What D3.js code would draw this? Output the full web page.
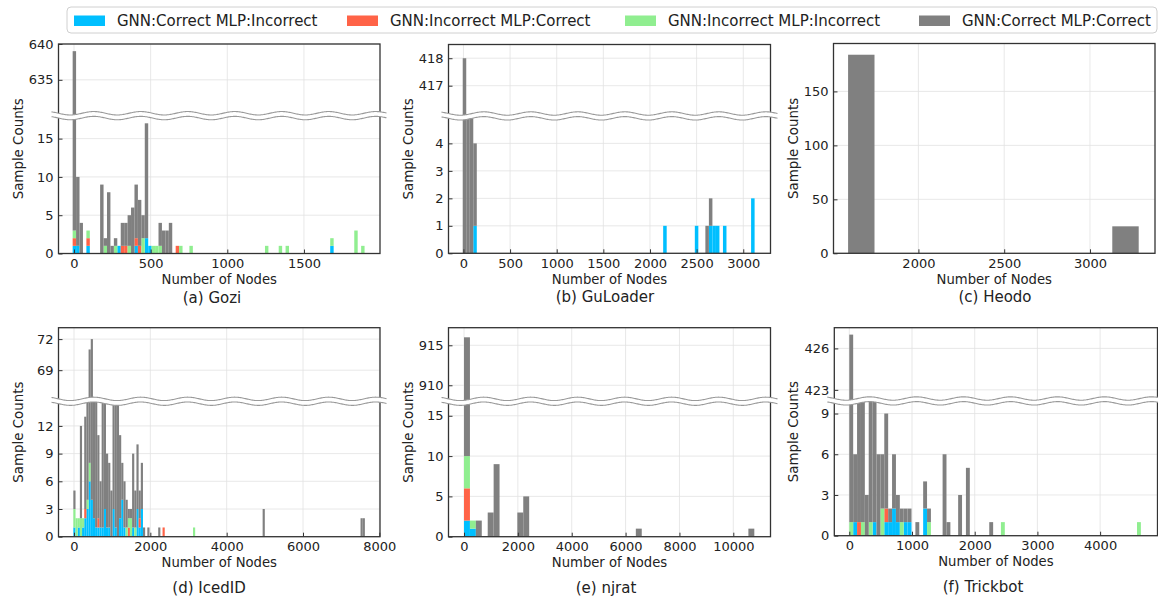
<!DOCTYPE html>
<html>
<head>
<meta charset="utf-8">
<script src="https://cdn.jsdelivr.net/npm/d3@7"></script>
<style>
  body { margin: 0; background: #fff; }
  text { font-family: "DejaVu Sans", sans-serif; fill: #222; }
</style>
</head>
<body>
<svg id="chart" width="1158" height="598"></svg>
<script>
/* DATA */
const seriesKeys = ["gcMi", "giMc", "giMi", "gcMc"];
const seriesLabels = ["GNN:Correct MLP:Incorrect", "GNN:Incorrect MLP:Correct", "GNN:Incorrect MLP:Incorrect", "GNN:Correct MLP:Correct"];
const seriesColors = ["#00bfff", "#ff6347", "#90ee90", "#808080"];

// (a) Gozi - bin index, counts per series (stacked)
const goziBins  = [0,1,2,4,8,9,10,11,12,13,14,15,16,17,18,19,20,21,22,23,24,25,26,27,28,30,31,34,56,60,62,75,82,84];
const goziBlue  = [1,1,0,1,0,0,0,0,0,1, 0,0,0,0,1,0,0,2,1,0, 0,0,0,0,0,0,0,0,0,0, 0,1,0,0];
const goziRed   = [1,0,0,1,0,0,0,0,0,0, 1,1,0,0,1,1,0,0,0,0, 0,0,0,0,0,1,0,0,0,0, 0,0,0,0];
const goziGreen = [1,0,0,1,0,1,0,0,1,0, 0,0,1,0,0,0,2,0,0,1, 1,1,0,0,0,0,1,1,1,1, 1,1,3,1];
const goziGray  = [636,9,4,0,9,1,8,1,1,0, 3,3,4,6,7,6,3,15,0,0, 0,3,3,3,4,0,0,0,0,0, 0,0,0,0];

// (b) GuLoader
const guBins  = [0,1,2,3,57,66,69,70,71,72,74,82];
const guBlue  = [0,0,0,1,1,1,0,1,1,1,1,2];
const guRed   = [0,0,0,0,0,0,0,0,0,0,0,0];
const guGreen = [0,0,0,0,0,0,0,0,0,0,0,0];
const guGray  = [418,12,7,3,0,0,1,1,0,0,0,0];

// (c) Heodo
const heoBins  = [0,10];
const heoBlue  = [0,0];
const heoRed   = [0,0];
const heoGreen = [0,0];
const heoGray  = [184,25];

// (d) IcedID
const iceBins  = [0,1,2,3,4,5,6,7,8,9,10,11,12,13,14,15,16,17,18,19,20,21,22,23,24,25,26,27,28,29,30,31,32,34,39,41,55,87,132,133];
const iceBlue  = [1,0,1,0,1,2,3,6,4,2, 1,1,1,1,3,1,1,0,3,1, 0,2,4,1,0,0,0,1,0,3, 1,3,0,0,0,0,0,0,0,0];
const iceRed   = [0,0,0,0,0,1,0,0,0,0, 0,1,0,0,0,0,0,0,0,0, 0,0,0,0,0,1,0,0,0,0, 1,0,0,0,0,1,0,0,0,0];
const iceGreen = [2,2,1,2,1,0,1,2,0,0, 0,0,0,0,0,0,0,0,0,0, 0,0,0,0,1,1,2,0,1,0, 0,0,0,0,0,0,1,0,0,0];
const iceGray  = [2,0,0,10,0,10,36,63,68,43, 34,9,5,24,17,8,7,5,22,18, 16,9,4,5,3,1,1,8,4,7, 3,5,1,1,1,0,0,3,2,2];

// (e) njrat
const njBins  = [0,1,2,4,5,9,10,29,48];
const njBlue  = [2,1,0,0,0,0,0,0,0];
const njRed   = [4,0,0,0,0,0,0,0,0];
const njGreen = [4,1,0,0,0,0,0,0,0];
const njGray  = [906,0,2,3,9,3,5,1,1];

// (f) Trickbot
const tbBins  = [0,1,2,3,4,5,6,7,8,9,10,11,12,13,14,15,17,19,20,24,25,28,30,36,39,74];
const tbBlue  = [0,1,0,0,0,0,1,0,0,1, 1,2,1,0,1,1,0,2,0,0, 0,0,0,0,0,0];
const tbRed   = [0,0,1,0,0,0,0,0,0,1, 0,0,0,0,0,0,0,0,0,0, 0,0,0,0,0,0];
const tbGreen = [1,0,0,1,0,1,0,0,2,0, 0,0,0,1,0,0,0,0,1,0, 0,0,0,0,1,1];
const tbGray  = [426,5,9,9,3,9,9,6,4,7, 1,4,2,1,1,1,1,2,1,6, 1,3,5,1,0,0];

/* PANEL SETUP */
const panels = [
  { id: "a", title: "(a) Gozi", titleX: 212, labelX: 18,
    left: 58.5, right: 380, top: 44, bottom: 253.5, breakFrac: 0.342,
    xDomain: [-101, 1996], xTicks: [0, 500, 1000, 1500], binStart: -8.7, binWidth: 22.4,
    yBot: [0, 18], yBotTicks: [0, 5, 10, 15], yTop: [630, 640], yTopTicks: [635, 640],
    bins: goziBins, values: [goziBlue, goziRed, goziGreen, goziGray] },
  { id: "b", title: "(b) GuLoader", titleX: 605, labelX: 408,
    left: 448.5, right: 770.5, top: 44.5, bottom: 253.3, breakFrac: 0.342,
    xDomain: [-160, 3292], xTicks: [0, 500, 1000, 1500, 2000, 2500, 3000], binStart: -7.5, binWidth: 37.7,
    yBot: [0, 5], yBotTicks: [0, 1, 2, 3, 4], yTop: [415.9, 418.5], yTopTicks: [417, 418],
    bins: guBins, values: [guBlue, guRed, guGreen, guGray] },
  { id: "c", title: "(c) Heodo", titleX: 995, labelX: 793,
    left: 833.5, right: 1155, top: 43.5, bottom: 253.3, breakFrac: null,
    xDomain: [1505, 3379], xTicks: [2000, 2500, 3000], binStart: 1590, binWidth: 154,
    yBot: [0, 194.4], yBotTicks: [0, 50, 100, 150], yTop: null, yTopTicks: [],
    bins: heoBins, values: [heoBlue, heoRed, heoGreen, heoGray] },
  { id: "d", title: "(d) IcedID", titleX: 209, labelX: 18,
    left: 58.5, right: 380, top: 327.7, bottom: 536.7, breakFrac: 0.352,
    xDomain: [-406, 8017], xTicks: [0, 2000, 4000, 6000, 8000], binStart: -17, binWidth: 57,
    yBot: [0, 14.67], yBotTicks: [0, 3, 6, 9, 12], yTop: [66, 73.1], yTopTicks: [69, 72],
    bins: iceBins, values: [iceBlue, iceRed, iceGreen, iceGray] },
  { id: "e", title: "(e) njrat", titleX: 606, labelX: 408,
    left: 448.5, right: 770.5, top: 327.7, bottom: 536.7, breakFrac: 0.352,
    xDomain: [-576, 11381], xTicks: [0, 2000, 4000, 6000, 8000, 10000], binStart: 0, binWidth: 220,
    yBot: [0, 16.8], yBotTicks: [0, 5, 10, 15], yTop: [908, 917.2], yTopTicks: [910, 915],
    bins: njBins, values: [njBlue, njRed, njGreen, njGray] },
  { id: "f", title: "(f) Trickbot", titleX: 983, labelX: 793,
    left: 834.3, right: 1157.5, top: 327.7, bottom: 535.7, breakFrac: 0.352,
    xDomain: [-239, 4915], xTicks: [0, 1000, 2000, 3000, 4000], binStart: 0, binWidth: 62,
    yBot: [0, 9.93], yBotTicks: [0, 3, 6, 9], yTop: [422.2, 427.5], yTopTicks: [423, 426],
    bins: tbBins, values: [tbBlue, tbRed, tbGreen, tbGray] }
];

const svg = d3.select("#chart");
const defs = svg.append("defs");

function styleAxis(a) {
  a.select(".domain").remove();
  a.selectAll(".tick line").attr("stroke", "#333").attr("stroke-width", 1);
  a.selectAll("text").attr("font-size", 13).attr("font-family", "DejaVu Sans, sans-serif").attr("fill", "#222");
}

function drawPanel(p) {
  const g = svg.append("g").attr("class", "panel-" + p.id);
  const broken = p.yTop !== null;
  const breakY = broken ? p.top + (p.bottom - p.top) * p.breakFrac : p.top;

  const x = d3.scaleLinear().domain(p.xDomain).range([p.left, p.right]);
  const yBot = d3.scaleLinear().domain(p.yBot).range([p.bottom, breakY]);
  const yTop = broken ? d3.scaleLinear().domain(p.yTop).range([breakY, p.top]) : null;

  // grid lines
  const grid = g.append("g").attr("stroke", "#e2e2e2").attr("stroke-width", 0.8);
  grid.selectAll(".gx").data(p.xTicks).join("line")
    .attr("x1", d => x(d)).attr("x2", d => x(d))
    .attr("y1", p.top).attr("y2", p.bottom);
  grid.selectAll(".gyb").data(p.yBotTicks).join("line")
    .attr("x1", p.left).attr("x2", p.right)
    .attr("y1", d => yBot(d)).attr("y2", d => yBot(d));
  if (broken) {
    grid.selectAll(".gyt").data(p.yTopTicks).join("line")
      .attr("x1", p.left).attr("x2", p.right)
      .attr("y1", d => yTop(d)).attr("y2", d => yTop(d));
  }

  // stacked histogram rows
  const rows = p.bins.map((b, i) => {
    const r = { x0: p.binStart + b * p.binWidth, x1: p.binStart + (b + 1) * p.binWidth };
    seriesKeys.forEach((k, j) => { r[k] = p.values[j][i]; });
    return r;
  });
  const stacked = d3.stack().keys(seriesKeys)(rows);

  // split each stacked segment into the lower and upper parts of the broken axis
  const segs = [];
  stacked.forEach((s, k) => {
    s.forEach(d => {
      const lo = Math.min(d[0], p.yBot[1]), hi = Math.min(d[1], p.yBot[1]);
      if (hi > lo) segs.push({ k, x0: d.data.x0, x1: d.data.x1, y0: yBot(lo), y1: yBot(hi) });
      if (broken) {
        const lo2 = Math.max(d[0], p.yTop[0]), hi2 = Math.min(Math.max(d[1], p.yTop[0]), p.yTop[1]);
        if (hi2 > lo2) segs.push({ k, x0: d.data.x0, x1: d.data.x1, y0: yTop(lo2), y1: yTop(hi2) });
      }
    });
  });

  defs.append("clipPath").attr("id", "clip-" + p.id)
    .append("rect").attr("x", p.left).attr("y", p.top)
    .attr("width", p.right - p.left).attr("height", p.bottom - p.top);

  g.append("g").attr("clip-path", `url(#clip-${p.id})`)
    .selectAll("rect").data(segs).join("rect")
      .attr("x", d => x(d.x0))
      .attr("width", d => Math.max(0.5, x(d.x1) - x(d.x0)))
      .attr("y", d => d.y1)
      .attr("height", d => d.y0 - d.y1)
      .attr("fill", d => seriesColors[d.k]);

  // axes with inward ticks
  g.append("g").attr("transform", `translate(0,${p.bottom})`)
    .call(d3.axisBottom(x).tickValues(p.xTicks).tickFormat(d3.format("d")).tickSize(-4).tickPadding(5))
    .call(styleAxis);
  g.append("g").attr("transform", `translate(${p.left},0)`)
    .call(d3.axisLeft(yBot).tickValues(p.yBotTicks).tickFormat(d3.format("d")).tickSize(-4).tickPadding(5))
    .call(styleAxis);
  if (broken) {
    g.append("g").attr("transform", `translate(${p.left},0)`)
      .call(d3.axisLeft(yTop).tickValues(p.yTopTicks).tickFormat(d3.format("d")).tickSize(-4).tickPadding(5))
      .call(styleAxis);
  }

  // frame
  g.append("rect")
    .attr("x", p.left).attr("y", p.top)
    .attr("width", p.right - p.left).attr("height", p.bottom - p.top)
    .attr("fill", "none").attr("stroke", "#333").attr("stroke-width", 1.3);

  // wavy break band
  if (broken) {
    const amp = 1.7, half = 2.4, period = 47;
    const xs = d3.range(p.left - 7, p.right + 7.5, 1);
    const wy = xx => breakY + amp * Math.sin((xx - p.left) / period * 2 * Math.PI);
    g.append("path").datum(xs)
      .attr("d", d3.area().x(d => d).y0(d => wy(d) - half).y1(d => wy(d) + half))
      .attr("fill", "#fff");
    [-half, half].forEach(off => {
      g.append("path").datum(xs)
        .attr("d", d3.line().x(d => d).y(d => wy(d) + off))
        .attr("fill", "none").attr("stroke", "#9a9a9a").attr("stroke-width", 1.1);
    });
  }

  // labels
  g.append("text")
    .attr("x", (p.left + p.right) / 2).attr("y", p.bottom + 26)
    .attr("text-anchor", "middle").attr("dominant-baseline", "central")
    .attr("font-size", 13.2).text("Number of Nodes");
  g.append("text")
    .attr("transform", `translate(${p.labelX},${(p.top + p.bottom) / 2}) rotate(-90)`)
    .attr("text-anchor", "middle").attr("dominant-baseline", "central")
    .attr("font-size", 13.4).text("Sample Counts");
  g.append("text")
    .attr("x", p.titleX).attr("y", p.bottom + (p.top < 100 ? 44 : 51))
    .attr("text-anchor", "middle").attr("dominant-baseline", "central")
    .attr("font-size", 15).text(p.title);
}

panels.forEach(drawPanel);

// legend
const legendX = [74, 347, 625, 919];
const legend = svg.append("g");
legend.append("rect")
  .attr("x", 67).attr("y", 7).attr("width", 1090).attr("height", 26)
  .attr("rx", 4).attr("fill", "#fff").attr("stroke", "#d0d0d0").attr("stroke-width", 1);
const items = legend.selectAll(".item").data(seriesLabels).join("g")
  .attr("transform", (d, i) => `translate(${legendX[i]},0)`);
items.append("rect")
  .attr("x", 0).attr("y", 15.5).attr("width", 31).attr("height", 10.5)
  .attr("fill", (d, i) => seriesColors[i]);
items.append("text")
  .attr("x", 43).attr("y", 20.5).attr("dominant-baseline", "central")
  .attr("font-size", 15).text(d => d);
</script>
</body>
</html>
